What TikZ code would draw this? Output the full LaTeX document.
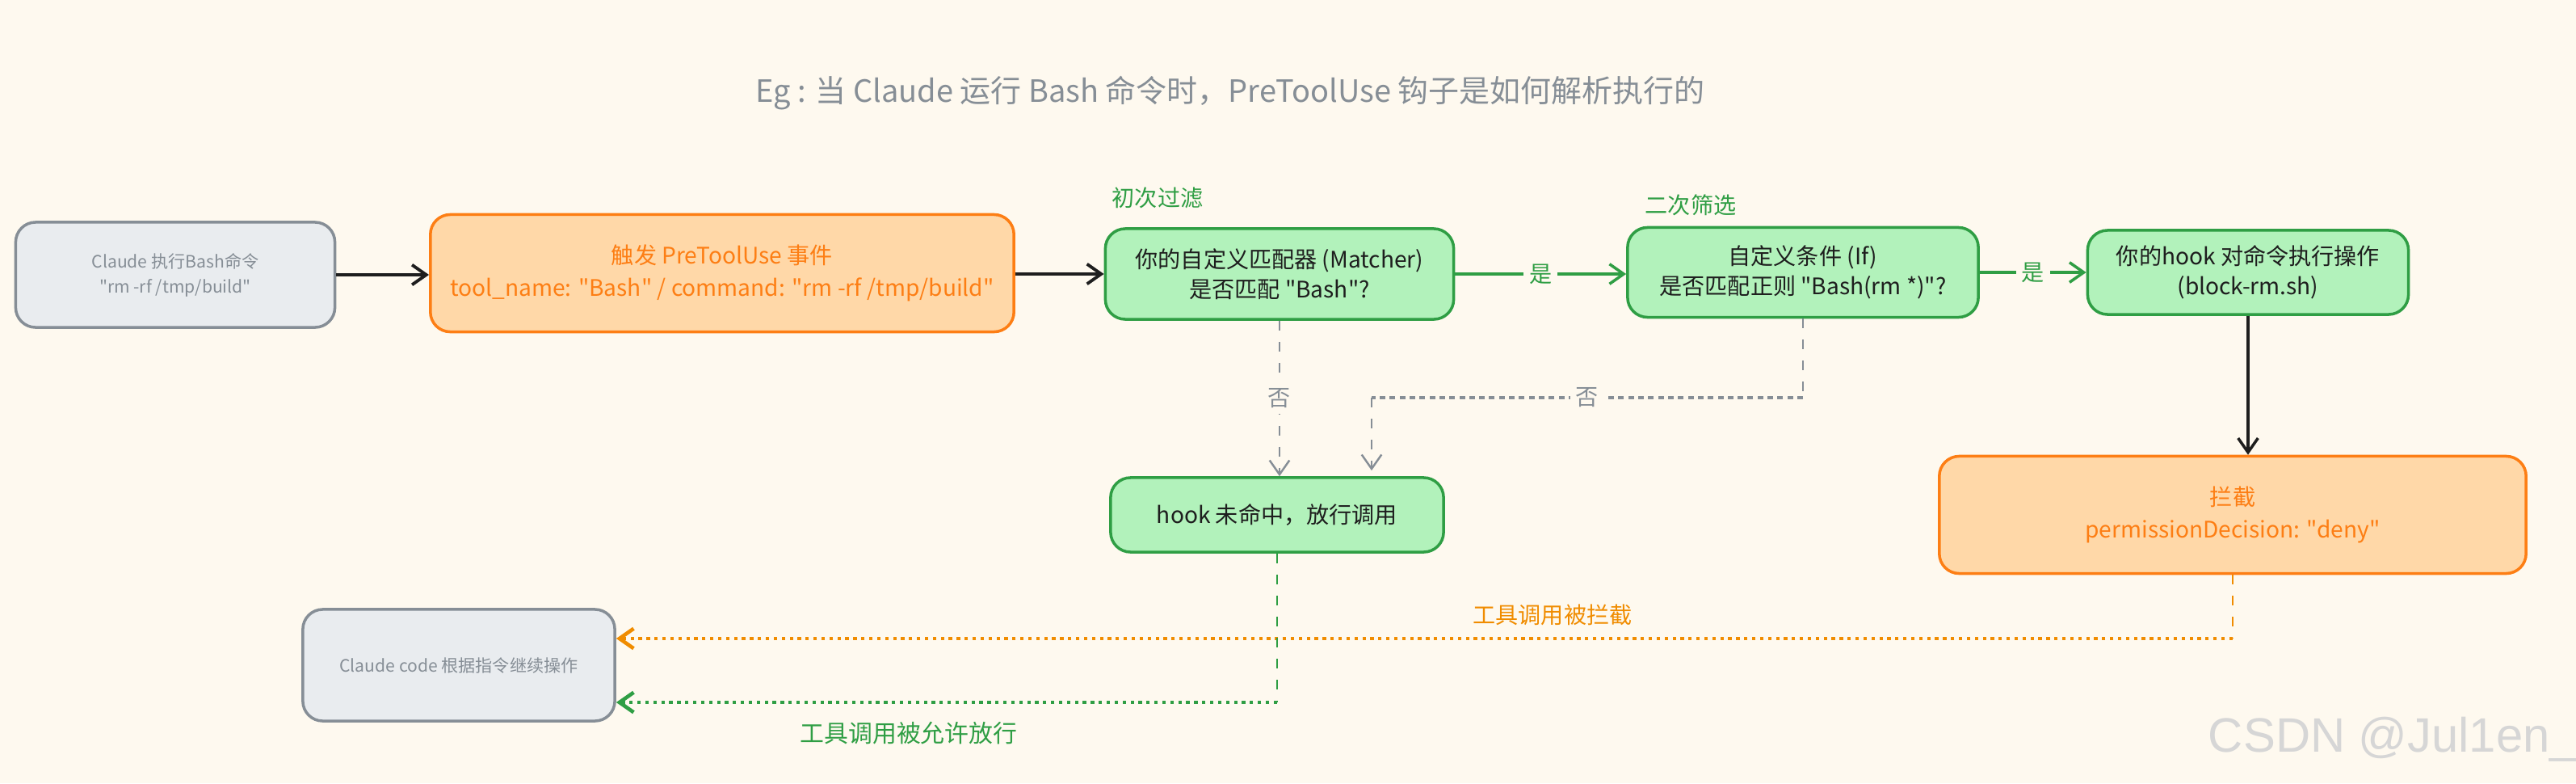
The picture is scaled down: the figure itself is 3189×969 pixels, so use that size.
\documentclass[tikz,border=0pt]{standalone}
\usepackage{fontspec}
\setmainfont{Noto Sans CJK SC}[Ligatures=TeXOff]
\newfontfamily\wmfont{Liberation Sans}
\usetikzlibrary{arrows.meta}
\definecolor{bg}{HTML}{FEF9EF}
\definecolor{grayfill}{HTML}{E9ECEF}
\definecolor{graydraw}{HTML}{868E96}
\definecolor{orfill}{HTML}{FFD8A8}
\definecolor{ordraw}{HTML}{FD7E14}
\definecolor{orline}{HTML}{F08C00}
\definecolor{grfill}{HTML}{B2F2BB}
\definecolor{grdraw}{HTML}{2F9E44}
\definecolor{ink}{HTML}{1E1E1E}
\definecolor{wm}{HTML}{D6D6D6}
\begin{document}
\begin{tikzpicture}[x=0.01cm,y=-0.01cm,
  box/.style={rounded corners=7pt, line width=1pt, align=center, inner sep=0pt},
  graybox/.style={box, fill=grayfill, draw=graydraw, text=graydraw, font=\fontsize{6}{8.8}\selectfont},
  orbox/.style={box, fill=orfill, draw=ordraw, text=ordraw, font=\fontsize{8}{11.5}\selectfont},
  grbox/.style={box, fill=grfill, draw=grdraw, text=ink, font=\fontsize{8}{10.5}\selectfont},
  tip/.style={-{Straight Barb[length=5pt,width=7pt]}},
  blackarrow/.style={tip, draw=ink, line width=1.1pt},
  greenarrow/.style={tip, draw=grdraw, line width=1pt},
  graydash/.style={draw=graydraw, line width=0.7pt, dash pattern=on 3.4pt off 4pt},
  graydot/.style={draw=graydraw, line width=0.9pt, dash pattern=on 2pt off 1.5pt},
  ordash/.style={draw=orline, line width=0.7pt, dash pattern=on 3.4pt off 4pt},
  ordot/.style={draw=orline, line width=1.3pt, dash pattern=on 1.2pt off 1.6pt},
  grdash/.style={draw=grdraw, line width=0.7pt, dash pattern=on 3.4pt off 4pt},
  grdot/.style={draw=grdraw, line width=1.3pt, dash pattern=on 1.2pt off 1.6pt},
  lbl/.style={font=\fontsize{8}{10}\selectfont, inner sep=2pt},
]
\useasboundingbox (0,0) rectangle (3189,969);
\fill[bg] (0,0) rectangle (3189,969);

% title
\node[font=\fontsize{10.8}{12}\selectfont, text=graydraw] (title) at (1523,115)
  {Eg : 当 Claude 运行 Bash 命令时，PreToolUse 钩子是如何解析执行的};

% boxes
\node[graybox, minimum width=3.95cm, minimum height=1.30cm] (A) at (217,340)
  {Claude 执行Bash命令\\"rm -rf /tmp/build"};
\node[orbox, minimum width=7.22cm, minimum height=1.45cm] (B) at (894,338)
  {触发 PreToolUse 事件\\tool\_name: "Bash" / command: "rm -rf /tmp/build"};
\node[grbox, minimum width=4.31cm, minimum height=1.12cm] (C) at (1584,339)
  {你的自定义匹配器 (Matcher)\\是否匹配 "Bash"?};
\node[grbox, minimum width=4.34cm, minimum height=1.11cm] (D) at (2232,337)
  {自定义条件 (If)\\是否匹配正则 "Bash(rm *)"?};
\node[grbox, minimum width=3.97cm, minimum height=1.04cm] (E) at (2783,337)
  {你的hook 对命令执行操作\\(block-rm.sh)};
\node[orbox, minimum width=7.26cm, minimum height=1.45cm] (F) at (2764,637)
  {拦截\\permissionDecision: "deny"};
\node[grbox, minimum width=4.12cm, minimum height=0.92cm] (G) at (1581,637)
  {hook 未命中，放行调用};
\node[graybox, minimum width=3.86cm, minimum height=1.38cm] (H) at (568,823)
  {Claude code 根据指令继续操作};

% section labels
\node[lbl, text=grdraw] (l1) at (1433,245) {初次过滤};
\node[lbl, text=grdraw] (l2) at (2093,254) {二次筛选};

% main flow
\draw[blackarrow] (A.east) -- (A.east -| B.west);
\draw[blackarrow] (B.east |- C.west) -- (C.west);
\draw[greenarrow] (C.east) -- (C.east -| D.west)
  node[lbl, midway, fill=bg, text=grdraw] {是};
\draw[greenarrow] (D.east) -- (D.east -| E.west)
  node[lbl, midway, fill=bg, text=grdraw] {是};
\draw[blackarrow, line width=1pt] (E.south) -- (E.south |- F.north);

% no branches
\draw[graydash, tip] (C.south) -- (C.south |- G.north)
  node[lbl, midway, fill=bg, text=graydraw] {否};
\coordinate (d1) at (2232,492);
\coordinate (d2) at (1698,492);
\draw[graydash] (D.south) -- (d1);
\draw[graydot] (d1) -- (d2) node[lbl, midway, fill=bg, text=graydraw] {否};
\draw[graydash, tip] (d2) -- ([yshift=2pt]d2 |- G.north);

% returns
\coordinate (f1) at (2764,790);
\draw[ordash] (F.south) -- (f1);
\draw[ordot, tip] (f1) -- (f1 -| H.east);
\node[lbl, text=orline] (lf) at (1922,761) {工具调用被拦截};

\coordinate (g1) at (1581,869);
\draw[grdash] (G.south) -- (g1);
\draw[grdot, tip] (g1) -- (g1 -| H.east);
\node[lbl, text=grdraw, font=\fontsize{8.5}{10}\selectfont] (lg) at (1125,907) {工具调用被允许放行};

% watermark
\node[font=\wmfont\fontsize{17}{20}\selectfont, text=wm] (wmk) at (2962,915) {CSDN @Jul1en\_};
\end{tikzpicture}
\end{document}
